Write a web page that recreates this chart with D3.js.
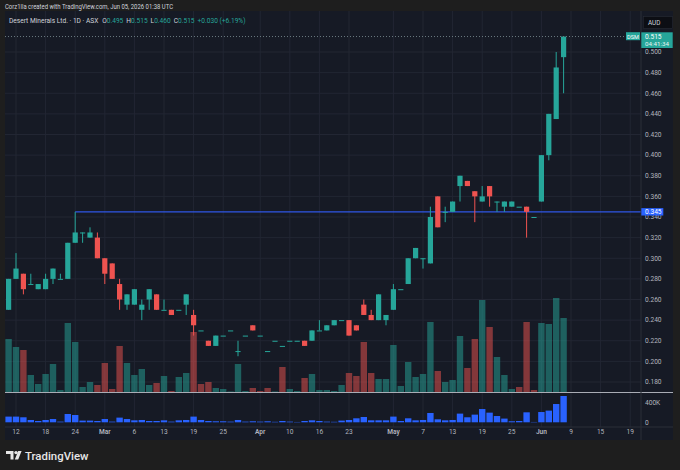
<!DOCTYPE html>
<html>
<head>
<meta charset="utf-8">
<script src="https://cdn.jsdelivr.net/npm/d3@7"></script>
<style>
  body { margin: 0; background: #1e1e1e; }
  svg { display: block; font-family: Roboto, "Noto Sans", sans-serif; }
</style>
</head>
<body>
<div id="chart"></div>
<script>
// daily candles, index 0 = first visible bar
const opens  = [0.250,0.280,0.285,0.275,0.270,0.270,0.280,0.280,0.280,0.315,
                0.325,0.320,0.320,0.300,0.295,0.275,0.255,0.255,0.250,0.260,
                0.265,0.250,0.250,0.250,0.255,0.245,0.230,0.220,0.215,0.225,
                0.230,0.210,0.225,0.235,0.225,0.210,0.220,0.215,0.220,0.220,
                0.220,0.220,0.230,0.230,0.235,0.240,0.240,0.235,0.255,0.245,
                0.240,0.240,0.250,0.270,0.275,0.300,0.300,0.295,0.360,0.345,
                0.345,0.370,0.375,0.365,0.355,0.370,0.355,0.350,0.350,0.350,
                0.350,0.340,0.355,0.400,0.435,0.495];
const highs  = [0.280,0.305,0.285,0.285,0.275,0.285,0.290,0.285,0.315,0.345,
                0.325,0.330,0.325,0.300,0.295,0.280,0.265,0.270,0.260,0.270,
                0.265,0.260,0.250,0.250,0.265,0.250,0.230,0.220,0.225,0.225,
                0.230,0.220,0.225,0.235,0.225,0.210,0.220,0.215,0.220,0.220,
                0.220,0.230,0.240,0.235,0.240,0.240,0.240,0.235,0.260,0.250,
                0.265,0.245,0.275,0.270,0.300,0.310,0.300,0.350,0.360,0.350,
                0.355,0.380,0.375,0.365,0.370,0.370,0.355,0.355,0.355,0.350,
                0.350,0.340,0.400,0.440,0.500,0.515];
const lows   = [0.250,0.280,0.265,0.275,0.270,0.270,0.275,0.280,0.280,0.315,
                0.315,0.320,0.300,0.275,0.280,0.250,0.250,0.255,0.240,0.250,
                0.250,0.250,0.245,0.250,0.245,0.225,0.230,0.215,0.215,0.225,
                0.230,0.205,0.225,0.230,0.225,0.210,0.220,0.215,0.220,0.220,
                0.215,0.220,0.230,0.230,0.235,0.240,0.225,0.230,0.245,0.240,
                0.240,0.235,0.250,0.270,0.275,0.300,0.290,0.295,0.330,0.335,
                0.345,0.355,0.370,0.335,0.355,0.350,0.345,0.345,0.350,0.350,
                0.320,0.340,0.355,0.395,0.435,0.460];
const closes = [0.280,0.290,0.270,0.275,0.275,0.280,0.290,0.280,0.315,0.325,
                0.325,0.325,0.300,0.285,0.280,0.260,0.265,0.270,0.255,0.270,
                0.250,0.250,0.245,0.250,0.265,0.235,0.230,0.215,0.225,0.225,
                0.230,0.210,0.225,0.230,0.225,0.210,0.220,0.215,0.220,0.220,
                0.215,0.230,0.230,0.235,0.240,0.240,0.225,0.230,0.245,0.240,
                0.265,0.245,0.270,0.270,0.300,0.310,0.300,0.340,0.330,0.345,
                0.355,0.380,0.370,0.360,0.360,0.360,0.355,0.355,0.355,0.350,
                0.345,0.340,0.400,0.440,0.485,0.515];
// overlay volume in the price pane (relative units) and its colour
const volumes = [53,45,42,17,8,18,28,2,69,50,5,10,7,29,3,46,29,17,23,7,
                 9,16,1,15,19,60,8,10,4,3,0.5,28,1,4,1,4,0.5,25,3,1,
                 14,18,2,2,1,7,19,16,50,19,13,13,47,6,30,15,18,70,21,10,
                 12,56,24,53,92,65,35,17,3,5,70,2,69,68,94,74];
const volDir = "GGRGGGGGGGGGRRRRGGGGRGRGGRRRGGGGGRRRGRGGRGGGGGRRRRGGGGGGGGRGGGRRGRGGGRRRGGGG";
// lower pane values (K)
const lowerVals = [118,118,104,48,27,48,68,14,172,151,35,35,27,68,14,97,68,41,48,27,
                   27,41,14,41,48,118,48,27,21,21,14,48,14,21,14,21,10,27,14,7,
                   27,41,27,14,10,35,48,83,110,41,41,41,118,27,83,41,48,193,62,41,
                   48,180,104,159,275,200,130,77,21,27,207,7,213,242,379,545];

const timeTicks  = [1,5,9,13,17,21,25,29,34,38,42,46,52,56,60,64,68,72,76,80,84];
const timeLabels = ["12","18","24","Mar","6","13","19","25","Apr","10","16","23",
                    "May","7","13","19","25","Jun","9","15","19"];
const monthLabels = ["Mar","Apr","May","Jun"];
const priceTicks = [0.18,0.20,0.22,0.24,0.26,0.28,0.30,0.32,0.34,0.36,0.38,
                    0.40,0.42,0.44,0.46,0.48,0.50];
const lowerTicks = [0, 400];
const levelPrice = 0.345;
const levelStart = 9;

const W = 680, H = 470;
const green = "#26a69a", red = "#ef5350";
const padL = 5, axisX = 641, padR = 673;
const chartTop = 11, paneSep = 392.5, timeTop = 427, chartBottom = 440;

const svg = d3.select("#chart").append("svg")
    .attr("width", W).attr("height", H);

svg.append("rect").attr("width", W).attr("height", H).attr("fill", "#1e1e1e");
svg.append("rect")
    .attr("x", padL).attr("y", chartTop)
    .attr("width", padR - padL).attr("height", chartBottom - chartTop)
    .attr("fill", "#161a25");

const x = d3.scaleLinear().domain([0, 84]).range([8.6, 630.2]);
const y = d3.scaleLinear().domain([0.18, 0.50]).range([382, 52]);
const yVol = d3.scaleLinear().domain([0, 100]).range([392, 292]);
const yLow = d3.scaleLinear().domain([0, 400]).range([422.3, 403]);

const plot = svg.append("g");

// grid
plot.selectAll("line.vgrid").data(timeTicks).enter().append("line")
    .attr("x1", d => x(d)).attr("x2", d => x(d))
    .attr("y1", chartTop).attr("y2", timeTop)
    .attr("stroke", "#222633").attr("stroke-width", 1);
plot.selectAll("line.hgrid").data(priceTicks).enter().append("line")
    .attr("x1", padL).attr("x2", axisX)
    .attr("y1", d => y(d)).attr("y2", d => y(d))
    .attr("stroke", "#222633").attr("stroke-width", 1);

// volume overlay
plot.selectAll("rect.vol").data(volumes).enter().append("rect")
    .attr("x", (d, i) => x(i) - 3.2)
    .attr("y", d => yVol(d))
    .attr("width", 6.4)
    .attr("height", d => yVol(0) - yVol(d))
    .attr("fill", (d, i) => volDir[i] === "G" ? green : red)
    .attr("opacity", 0.5);

// horizontal level
plot.append("line")
    .attr("x1", x(levelStart)).attr("x2", axisX)
    .attr("y1", y(levelPrice)).attr("y2", y(levelPrice))
    .attr("stroke", "#2f56e6").attr("stroke-width", 1.4);

// candles
const idx = d3.range(opens.length);
const col = i => closes[i] >= opens[i] ? green : red;
plot.selectAll("line.wick").data(idx).enter().append("line")
    .attr("x1", i => x(i)).attr("x2", i => x(i))
    .attr("y1", i => y(highs[i])).attr("y2", i => y(lows[i]))
    .attr("stroke", col).attr("stroke-width", 1);
plot.selectAll("rect.body").data(idx).enter().append("rect")
    .attr("x", i => x(i) - 2.6)
    .attr("y", i => y(Math.max(opens[i], closes[i])))
    .attr("width", 5.2)
    .attr("height", i => Math.max(1, Math.abs(y(opens[i]) - y(closes[i]))))
    .attr("fill", col);

// last price dotted line
const last = closes[closes.length - 1];
plot.append("line")
    .attr("x1", padL).attr("x2", 626)
    .attr("y1", y(last)).attr("y2", y(last))
    .attr("stroke", "#6b7a80").attr("stroke-dasharray", "1,2");

// lower pane
plot.selectAll("rect.low").data(lowerVals).enter().append("rect")
    .attr("x", (d, i) => x(i) - 3.2)
    .attr("y", d => yLow(d))
    .attr("width", 6.4)
    .attr("height", d => yLow(0) - yLow(d))
    .attr("fill", "#2962ff");

// separators
svg.append("line").attr("x1", padL).attr("x2", padR)
    .attr("y1", paneSep).attr("y2", paneSep)
    .attr("stroke", "#a9acb5").attr("stroke-width", 1);
svg.append("line").attr("x1", padL).attr("x2", padR)
    .attr("y1", timeTop).attr("y2", timeTop)
    .attr("stroke", "#2a2e39");
svg.append("line").attr("x1", axisX).attr("x2", axisX)
    .attr("y1", chartTop).attr("y2", chartBottom)
    .attr("stroke", "#2a2e39");

// price axis
const axisG = svg.append("g").attr("font-size", 6.6).attr("fill", "#b2b5be");
axisG.selectAll("text.p").data(priceTicks).enter().append("text")
    .attr("x", 645).attr("y", d => y(d) + 2.3)
    .text(d => d.toFixed(3));
axisG.selectAll("text.l").data(lowerTicks).enter().append("text")
    .attr("x", 645).attr("y", d => yLow(d) + 2.3)
    .text(d => d === 0 ? "0" : d + "K");

// time axis
svg.append("g").selectAll("text").data(timeTicks).enter().append("text")
    .attr("x", d => x(d)).attr("y", 434)
    .attr("text-anchor", "middle")
    .attr("font-size", 6.6)
    .attr("font-weight", (d, i) => monthLabels.includes(timeLabels[i]) ? 600 : 400)
    .attr("fill", "#b2b5be")
    .text((d, i) => timeLabels[i]);

// AUD box
svg.append("rect").attr("x", 643.3).attr("y", 16.7).attr("width", 29.4).attr("height", 11.6)
    .attr("fill", "#0c0e14").attr("stroke", "#2a2e39").attr("stroke-width", 0.5);
svg.append("text").attr("x", 648).attr("y", 25).attr("font-size", 6.4)
    .attr("fill", "#d1d4dc").text("AUD");

// last price label
svg.append("rect").attr("x", 626).attr("y", 32.2).attr("width", 14).attr("height", 8)
    .attr("fill", green);
svg.append("text").attr("x", 633).attr("y", 38.5).attr("text-anchor", "middle")
    .attr("font-size", 5.6).attr("fill", "#fff").text("DSM");
svg.append("rect").attr("x", 641.3).attr("y", 32.3).attr("width", 31.4).attr("height", 15.7)
    .attr("fill", green);
svg.append("text").attr("x", 645).attr("y", 38.8).attr("font-size", 6.6)
    .attr("fill", "#fff").text(last.toFixed(3));
svg.append("text").attr("x", 645).attr("y", 46).attr("font-size", 6.2)
    .attr("fill", "#e8f5f3").text("04:41:34");

// level label
svg.append("rect").attr("x", 641.3).attr("y", y(levelPrice) - 3.7).attr("width", 22).attr("height", 7.4)
    .attr("fill", "#2962ff");
svg.append("text").attr("x", 645).attr("y", y(levelPrice) + 2.3).attr("font-size", 6.6)
    .attr("fill", "#fff").text(levelPrice.toFixed(3));

// header texts
svg.append("text").attr("x", 5).attr("y", 8.5)
    .attr("font-size", 6.4).attr("fill", "#d1d4dc")
    .attr("textLength", 168).attr("lengthAdjust", "spacingAndGlyphs")
    .text("Corz1lla created with TradingView.com, Jun 05, 2026 01:38 UTC");

const prev = closes[closes.length - 2];
const chg = last - prev;
const legend = svg.append("text").attr("x", 9).attr("y", 23)
    .attr("font-size", 6.6).attr("fill", "#d1d4dc");
legend.append("tspan").text("Desert Minerals Ltd. · 1D · ASX");
const ohlc = [["O", opens], ["H", highs], ["L", lows], ["C", closes]];
ohlc.forEach(([k, arr], j) => {
  legend.append("tspan").attr("dx", j === 0 ? 4 : 3).text(k);
  legend.append("tspan").attr("fill", green).text(arr[arr.length - 1].toFixed(3));
});
legend.append("tspan").attr("dx", 3).attr("fill", green)
    .text("+" + chg.toFixed(3) + " (+" + (chg / prev * 100).toFixed(2) + "%)");

// TradingView logo
const logo = svg.append("g").attr("fill", "#e6e6e6");
logo.append("path").attr("d", "M6,451 H13.5 V459.5 H10.5 V454 H6 Z");
logo.append("circle").attr("cx", 16).attr("cy", 452.6).attr("r", 1.7);
logo.append("path").attr("d", "M18.2,451 H21.6 L18.2,459.5 H14.8 Z");
svg.append("text").attr("x", 25).attr("y", 459.5)
    .attr("font-size", 11.4).attr("font-weight", 500).attr("fill", "#e6e6e6")
    .text("TradingView");
</script>
</body>
</html>
